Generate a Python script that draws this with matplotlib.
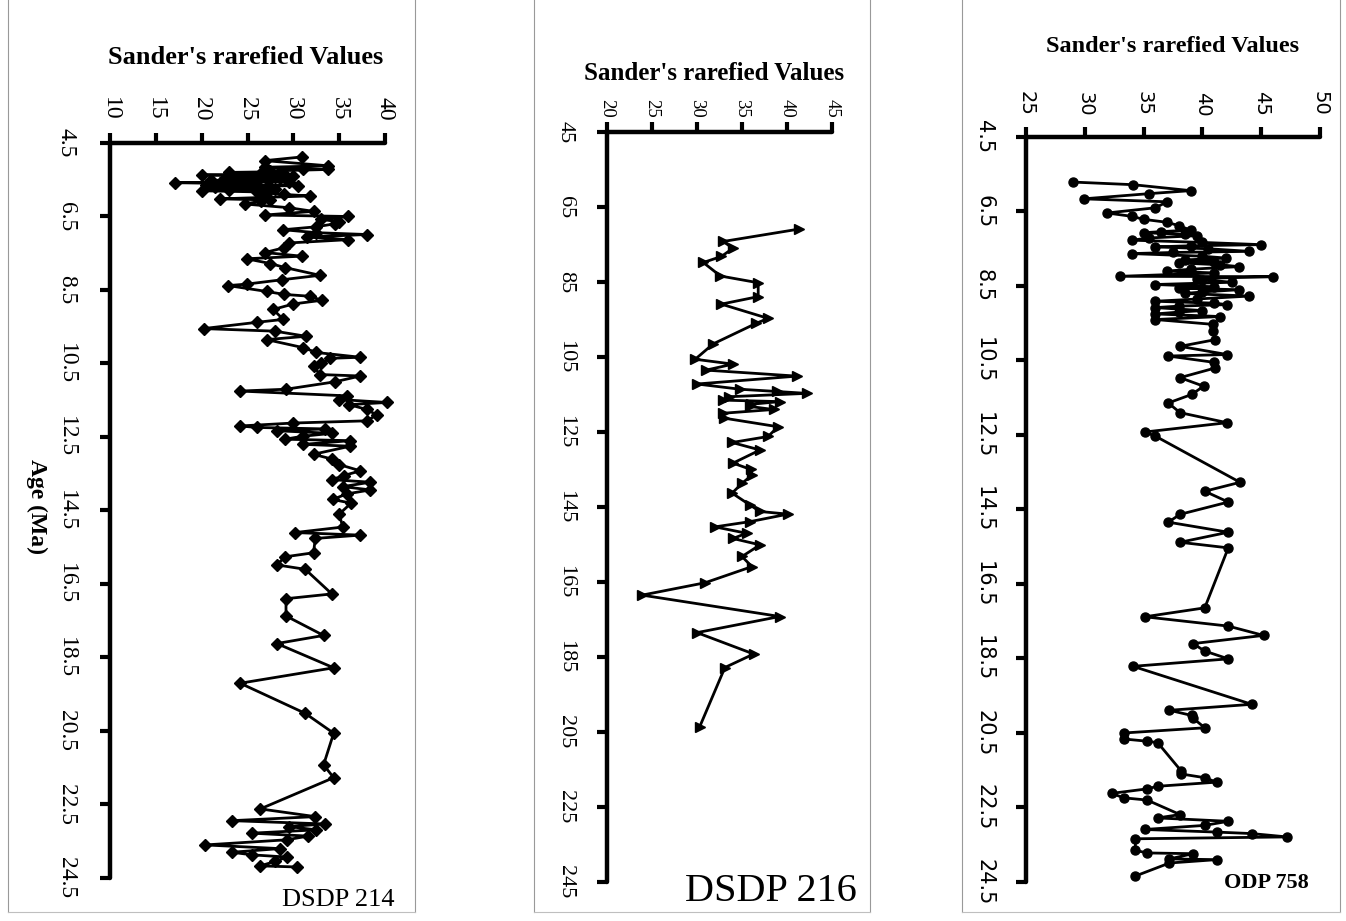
#!/usr/bin/env python3
# coding: utf-8

import matplotlib
matplotlib.use('Agg')
import matplotlib.pyplot as plt
from matplotlib.lines import Line2D

# DSDP 214 : age (Ma), Sander's rarefied value
age_214 = [4.88, 4.98, 5.12, 5.16, 5.20, 5.22, 5.26, 5.28, 5.30, 5.32, 5.35, 5.37, 5.40, 5.42, 5.44,
           5.46, 5.48, 5.50, 5.52, 5.54, 5.56, 5.58, 5.60, 5.62, 5.64, 5.66, 5.68, 5.70, 5.72, 5.74,
           5.77, 5.80, 5.83, 5.86, 5.90, 5.94, 6.02, 6.05, 6.08, 6.16, 6.26, 6.36, 6.46, 6.50, 6.58,
           6.64, 6.70, 6.78, 6.86, 6.94, 6.99, 7.06, 7.13, 7.22, 7.35, 7.48, 7.58, 7.65, 7.78, 7.89,
           8.10, 8.22, 8.34, 8.38, 8.54, 8.62, 8.67, 8.78, 8.88, 9.03, 9.30, 9.38, 9.55, 9.62, 9.76,
           9.85, 10.07, 10.20, 10.33, 10.36, 10.50, 10.57, 10.80, 10.84, 11.00, 11.20, 11.25, 11.38, 11.48, 11.56,
           11.62, 11.75, 11.90, 12.06, 12.12, 12.20, 12.24, 12.28, 12.33, 12.40, 12.48, 12.56, 12.60, 12.70, 12.75,
           12.97, 13.10, 13.25, 13.42, 13.55, 13.66, 13.73, 13.85, 13.94, 14.05, 14.20, 14.30, 14.60, 14.95, 15.10,
           15.17, 15.26, 15.65, 15.76, 15.98, 16.10, 16.77, 16.90, 17.37, 17.90, 18.12, 18.78, 19.20, 20.02, 20.56,
           21.42, 21.77, 22.62, 22.83, 22.94, 23.03, 23.10, 23.19, 23.28, 23.36, 23.46, 23.60, 23.70, 23.80, 23.87,
           23.93, 24.05, 24.17, 24.20]
val_214 = [30.9, 26.9, 33.8, 26.9, 31.0, 33.8, 27.5, 28.5, 23.0, 26.5, 29.0, 20.0, 30.0, 24.0, 22.5,
           28.5, 27.5, 23.5, 21.0, 26.0, 29.5, 17.1, 22.0, 25.0, 20.5, 30.5, 24.5, 21.5, 27.0, 28.0,
           23.0, 20.0, 26.0, 27.0, 29.0, 31.8, 22.0, 27.5, 26.5, 24.7, 29.5, 32.2, 26.9, 36.0, 33.0,
           35.0, 34.5, 32.5, 28.9, 32.5, 38.0, 31.5, 36.0, 29.5, 29.0, 26.9, 30.9, 24.9, 27.5, 29.1,
           32.9, 28.8, 24.9, 22.9, 27.1, 29.0, 31.8, 33.1, 30.0, 27.8, 28.9, 26.0, 20.2, 28.0, 31.4,
           27.1, 31.1, 32.5, 37.3, 34.0, 33.0, 32.2, 32.9, 37.3, 34.5, 29.2, 24.2, 35.8, 35.0, 40.2,
           36.1, 38.0, 39.1, 38.0, 30.0, 24.2, 26.0, 33.5, 28.2, 34.2, 31.0, 29.1, 36.2, 31.1, 36.2,
           32.2, 34.2, 35.0, 37.3, 35.5, 34.2, 38.4, 35.4, 38.4, 35.8, 34.3, 36.3, 35.0, 35.4, 30.2,
           37.3, 32.4, 32.2, 29.1, 28.2, 31.3, 34.2, 29.2, 29.2, 33.3, 28.2, 34.4, 24.2, 31.3, 34.4,
           33.3, 34.4, 26.4, 32.4, 23.3, 33.5, 29.5, 32.5, 25.5, 31.6, 29.3, 20.4, 28.5, 23.3, 25.5,
           29.3, 28.0, 26.4, 30.4]

# DSDP 216
age_216 = [7.09, 7.42, 7.60, 7.82, 7.98, 8.34, 8.52, 8.89, 9.09, 9.47, 9.60, 10.15, 10.56, 10.69, 10.85,
           11.01, 11.22, 11.36, 11.42, 11.47, 11.56, 11.65, 11.69, 11.76, 11.82, 11.90, 12.00, 12.13, 12.36, 12.62,
           12.78, 12.98, 13.33, 13.50, 13.65, 13.87, 14.13, 14.45, 14.62, 14.69, 14.89, 15.03, 15.20, 15.34, 15.51,
           15.82, 16.09, 16.52, 16.85, 17.42, 17.85, 18.42, 18.78, 20.36]
val_216 = [41.3, 32.9, 34.0, 32.7, 30.7, 32.6, 36.8, 36.8, 32.7, 37.9, 36.6, 31.8, 29.8, 34.0, 31.0,
           41.1, 30.0, 34.8, 38.9, 42.2, 33.5, 32.9, 39.2, 36.0, 35.9, 38.5, 32.9, 33.0, 39.0, 37.9,
           33.9, 37.0, 34.0, 36.0, 36.1, 35.0, 33.9, 35.9, 37.0, 40.1, 35.9, 32.0, 35.5, 34.0, 37.0,
           35.0, 36.1, 30.9, 23.9, 39.2, 30.0, 36.3, 33.1, 30.3]

# ODP 758
age_758 = [5.71, 5.78, 5.94, 6.02, 6.16, 6.24, 6.40, 6.54, 6.63, 6.71, 6.79, 6.88, 7.00, 7.04, 7.07,
           7.11, 7.15, 7.21, 7.27, 7.33, 7.39, 7.42, 7.45, 7.50, 7.57, 7.60, 7.63, 7.70, 7.75, 7.80,
           7.85, 7.88, 7.93, 7.98, 8.05, 8.10, 8.15, 8.24, 8.25, 8.30, 8.33, 8.40, 8.46, 8.52, 8.56,
           8.60, 8.66, 8.70, 8.77, 8.85, 8.91, 8.96, 9.00, 9.04, 9.08, 9.16, 9.20, 9.25, 9.32, 9.40,
           9.53, 9.71, 9.94, 10.12, 10.34, 10.38, 10.55, 10.70, 10.96, 11.19, 11.41, 11.64, 11.90, 12.17, 12.42,
           12.53, 13.77, 14.01, 14.30, 14.63, 14.84, 15.11, 15.38, 15.53, 17.14, 17.38, 17.63, 17.88, 18.10, 18.30,
           18.51, 18.71, 19.73, 19.89, 20.03, 20.10, 20.36, 20.50, 20.66, 20.72, 20.76, 21.52, 21.60, 21.70, 21.82,
           21.93, 22.00, 22.12, 22.24, 22.30, 22.69, 22.78, 22.87, 22.98, 23.09, 23.16, 23.20, 23.29, 23.34, 23.65,
           23.72, 23.74, 23.88, 23.90, 23.99, 24.34]
val_758 = [29.0, 34.1, 39.0, 35.5, 29.9, 37.0, 36.0, 31.9, 34.0, 35.0, 37.0, 38.0, 39.0, 36.5, 35.0,
           38.5, 39.5, 35.5, 34.0, 40.0, 45.0, 39.0, 36.0, 40.5, 44.0, 37.5, 34.0, 40.0, 42.0, 38.5,
           41.0, 38.0, 41.5, 43.1, 39.0, 37.0, 41.0, 33.0, 46.0, 39.5, 40.0, 42.5, 36.0, 41.0, 38.0,
           43.1, 40.0, 38.5, 44.0, 39.5, 36.0, 41.0, 42.1, 38.0, 36.0, 40.0, 38.0, 36.0, 41.5, 36.0,
           40.9, 40.9, 41.1, 38.1, 42.1, 37.1, 41.0, 41.1, 38.1, 40.1, 39.1, 37.1, 38.1, 42.1, 35.1,
           36.0, 43.2, 40.2, 42.2, 38.1, 37.1, 42.2, 38.1, 42.2, 40.2, 35.1, 42.2, 45.2, 39.2, 40.2,
           42.2, 34.1, 44.2, 37.2, 39.1, 39.2, 40.2, 33.3, 33.3, 35.3, 36.2, 38.2, 38.2, 40.2, 41.2,
           36.2, 35.3, 32.3, 33.3, 35.3, 38.1, 36.2, 42.2, 40.2, 35.1, 41.2, 44.2, 47.2, 34.3, 34.3,
           35.3, 39.2, 37.2, 41.2, 37.2, 34.3]

age_ticks = [4.5, 6.5, 8.5, 10.5, 12.5, 14.5, 16.5, 18.5, 20.5, 22.5, 24.5]
age_labels = ['4.5', '6.5', '8.5', '10.5', '12.5', '14.5', '16.5', '18.5', '20.5', '22.5', '24.5']
age_labels_216 = ['45', '65', '85', '105', '125', '145', '165', '185', '205', '225', '245']

W, H = 1346, 921
fig = plt.figure(figsize=(W / 100, H / 100), dpi=100)


def px_box(x0, x1, ytop, ybot):
  return [x0 / W, 1 - ybot / H, (x1 - x0) / W, (ybot - ytop) / H]


def panel(box, ages, vals, xlim, xstep, marker, ms, font, xfs, yfs, ylabels, xpad, ypad):
  ax = fig.add_axes(box)
  ax.plot(vals, ages, color='black', lw=2.0, marker=marker, ms=ms, clip_on=False, zorder=3)
  ax.set_xlim(*xlim)
  ax.set_ylim(24.5, 4.5)
  for s in ['right', 'bottom']:
    ax.spines[s].set_visible(False)
  for s in ['top', 'left']:
    ax.spines[s].set_linewidth(3.2)
    ax.spines[s].set_capstyle('round')
  ax.xaxis.tick_top()
  xt = list(range(xlim[0], xlim[1] + 1, xstep))
  ax.set_xticks(xt)
  ax.set_xticklabels([str(v) for v in xt], rotation=270, fontfamily=font, fontsize=xfs)
  ax.set_yticks(age_ticks)
  ax.set_yticklabels(ylabels, rotation=270, fontfamily=font, fontsize=yfs, va='center')
  ax.tick_params(axis='x', direction='out', length=7, width=3, pad=xpad)
  ax.tick_params(axis='y', direction='out', length=7, width=3, pad=ypad)
  ax.patch.set_alpha(0)
  return ax


ax1 = panel(px_box(110, 385, 143, 878), age_214, val_214, (10, 40), 5, 'D', 6,
            'Liberation Serif', 17, 17, age_labels, 9, 17)
ax2 = panel(px_box(607, 832, 132, 882), age_216, val_216, (20, 45), 5, '>', 7.5,
            'Liberation Serif', 13.5, 16, age_labels_216, 3, 16)
ax3 = panel(px_box(1026, 1320, 137, 882), age_758, val_758, (25, 50), 5, 'o', 6.5,
            'DejaVu Sans', 14, 15, age_labels, 8, 16)

title_kw = dict(fontfamily='Liberation Serif', fontweight='bold', ha='center', va='center')
fig.text(246 / W, 1 - 58 / H, "Sander's rarefied Values", fontsize=19, **title_kw)
fig.text(714 / W, 1 - 73 / H, "Sander's rarefied Values", fontsize=18, **title_kw)
fig.text(1173 / W, 1 - 47 / H, "Sander's rarefied Values", fontsize=17.5, **title_kw)

fig.text(37 / W, 1 - 506 / H, 'Age (Ma)', rotation=270, fontsize=17, **title_kw)

fig.text(338 / W, 1 - 900 / H, 'DSDP 214', fontsize=19, fontfamily='Liberation Serif',
         ha='center', va='center')
fig.text(771 / W, 1 - 891 / H, 'DSDP 216', fontsize=29, fontfamily='Liberation Serif',
         ha='center', va='center')
fig.text(1266 / W, 1 - 883 / H, 'ODP 758', fontsize=16, fontfamily='Liberation Serif',
         fontweight='bold', ha='center', va='center')

# page borders of the three original chart boxes
for x in [8, 415, 534, 870, 962, 1340]:
  fig.add_artist(Line2D([x / W, x / W], [1 - 912 / H, 1], color='0.6', lw=0.8))
for x0, x1 in [(8, 415), (534, 870), (962, 1340)]:
  fig.add_artist(Line2D([x0 / W, x1 / W], [1 - 912 / H, 1 - 912 / H], color='0.75', lw=0.8))

plt.savefig('out.png', dpi=100)
